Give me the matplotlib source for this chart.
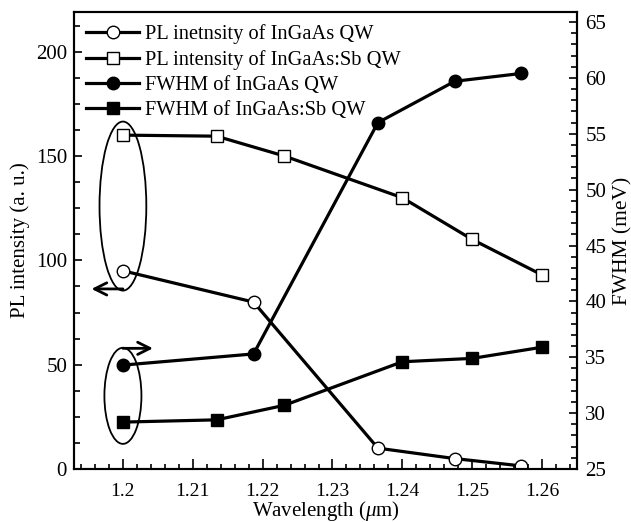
import numpy as np
import matplotlib
matplotlib.use("Agg")
import matplotlib.pyplot as plt
from matplotlib.patches import Ellipse
from matplotlib.ticker import MultipleLocator

plt.rcParams['font.family'] = ['Liberation Serif', 'DejaVu Serif']
plt.rcParams['mathtext.fontset'] = 'custom'
plt.rcParams['mathtext.rm'] = 'Liberation Serif'
plt.rcParams['mathtext.it'] = 'Liberation Serif:italic'

# InGaAs QW
wl_ingaas = [1.2, 1.2187, 1.2365, 1.2475, 1.257]
pl_ingaas = [95, 80, 10, 5, 1.5]
fwhm_ingaas = [34.3, 35.3, 56.0, 59.7, 60.4]

# InGaAs:Sb QW
wl_sb = [1.2, 1.2134, 1.2231, 1.24, 1.25, 1.26]
pl_sb = [160, 159.5, 150, 130, 110, 93]
fwhm_sb = [29.2, 29.4, 30.7, 34.6, 34.9, 35.9]

labels = ["PL inetnsity of InGaAs QW", "PL intensity of InGaAs:Sb QW",
          "FWHM of InGaAs QW", "FWHM of InGaAs:Sb QW"]
xticks = [1.2, 1.21, 1.22, 1.23, 1.24, 1.25, 1.26]
xticklabels = ["1.2", "1.21", "1.22", "1.23", "1.24", "1.25", "1.26"]

fs = 14
lw = 2.3

fig = plt.figure(figsize=(6.31, 5.22), dpi=100)
ax1 = fig.add_axes([0.1173, 0.1015, 0.7971, 0.8755])
ax2 = ax1.twinx()

l1, = ax1.plot(wl_ingaas, pl_ingaas, '-o', color='black', lw=lw, ms=9,
               mfc='white', mec='black', mew=1.0)
l2, = ax1.plot(wl_sb, pl_sb, '-s', color='black', lw=lw, ms=9,
               mfc='white', mec='black', mew=1.0)
l3, = ax2.plot(wl_ingaas, fwhm_ingaas, '-o', color='black', lw=lw, ms=9)
l4, = ax2.plot(wl_sb, fwhm_sb, '-s', color='black', lw=lw, ms=9)

ax1.set_xlim(1.193, 1.265)
ax1.set_ylim(0, 219)
ax2.set_ylim(25, 65.9)

ax1.set_xticks(xticks)
ax1.set_xticklabels(xticklabels)
ax1.xaxis.set_minor_locator(MultipleLocator(0.002))
ax1.yaxis.set_major_locator(MultipleLocator(50))
ax1.yaxis.set_minor_locator(MultipleLocator(12.5))
ax2.yaxis.set_major_locator(MultipleLocator(5))
ax2.yaxis.set_minor_locator(MultipleLocator(1))

ax1.tick_params(axis='x', which='major', direction='in', length=7, width=1.2,
                labelsize=fs, pad=10, top=False)
ax1.tick_params(axis='x', which='minor', direction='in', length=3.5, width=1.2, top=False)
ax1.tick_params(axis='y', which='major', direction='in', length=6, width=1.2,
                labelsize=fs + 1, pad=5)
ax1.tick_params(axis='y', which='minor', direction='in', length=4, width=1.2)
ax2.tick_params(axis='y', which='major', direction='in', length=6, width=1.2,
                labelsize=fs + 1, pad=6)
ax2.tick_params(axis='y', which='minor', direction='in', length=4, width=1.2)

for ax in (ax1, ax2):
    for sp in ax.spines.values():
        sp.set_linewidth(1.5)

ax1.set_xlabel(r"Wavelength ($\mu$m)", fontsize=15, labelpad=-1)
ax1.set_ylabel("PL intensity (a. u.)", fontsize=15, labelpad=4)
ax2.set_ylabel("FWHM (meV)", fontsize=15.5, rotation=90, labelpad=5)

# guide ellipses and arrows
ax1.add_patch(Ellipse((1.2, 126), 0.0067, 81, fill=False, lw=1.3, ec='black'))
ax2.add_patch(Ellipse((1.2, 31.55), 0.0053, 8.6, fill=False, lw=1.3, ec='black'))
ax1.annotate("", xy=(1.1955, 86.3), xytext=(1.2, 86.3),
             arrowprops=dict(arrowstyle='->', lw=2, color='black',
                             shrinkA=0, shrinkB=0, mutation_scale=22))
ax2.annotate("", xy=(1.2043, 35.8), xytext=(1.2, 35.8),
             arrowprops=dict(arrowstyle='->', lw=2, color='black',
                             shrinkA=0, shrinkB=0, mutation_scale=22))

ax2.legend([l1, l2, l3, l4], labels, loc='upper left', frameon=False,
           fontsize=14.7, handlelength=2.6, handletextpad=0.3,
           labelspacing=0.28, borderaxespad=0.4, borderpad=0.2)

fig.savefig("out.png", dpi=100)
